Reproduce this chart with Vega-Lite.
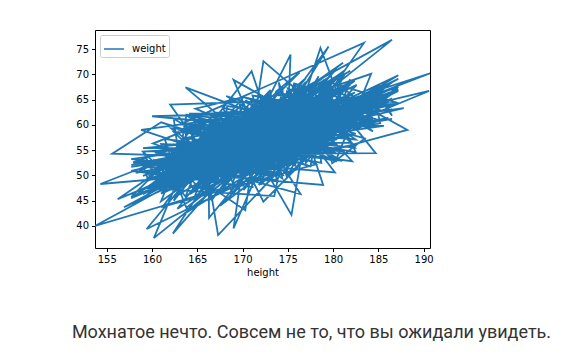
{
"$schema":"https://vega.github.io/schema/vega-lite/v6.json",
"autosize":{"type":"none"},
"padding":{"left":95,"top":30,"right":147,"bottom":112},
"width":335,"height":218,
"background":"#ffffff",
"title":{"text":"Мохнатое нечто. Совсем не то, что вы ожидали увидеть.","orient":"bottom","anchor":"middle","frame":"group","dx":49,"offset":46,"font":"Roboto","fontSize":18,"fontWeight":"normal","color":"#333333"},
"config":{"view":{"stroke":"#000000","strokeWidth":1},"axis":{"grid":false,"domain":false,"tickColor":"#000000","tickSize":3.5,"tickWidth":1,"labelFont":"DejaVu Sans","labelFontSize":10,"labelColor":"#000000","titleFont":"DejaVu Sans","titleFontSize":10,"titleFontWeight":"normal","titleColor":"#000000"}},
"data":{"values":[
{"height":163.8,"weight":55.7},{"height":175.1,"weight":53.6},{"height":170.6,"weight":57.6},{"height":178.7,"weight":68.0},{"height":167.1,"weight":52.5},{"height":172.8,"weight":50.1},
{"height":153.7,"weight":40.0},
{"height":181.3,"weight":67.0},{"height":165.9,"weight":53.8},{"height":174.4,"weight":64.8},{"height":169.2,"weight":52.0},{"height":177.5,"weight":62.1},{"height":162.4,"weight":45.6},
{"height":176.3,"weight":70.4},
{"height":173.7,"weight":66.6},{"height":171.7,"weight":54.2},{"height":179.9,"weight":61.9},{"height":166.6,"weight":59.6},{"height":176.2,"weight":53.6},{"height":168.3,"weight":59.0},
{"height":186.5,"weight":76.8},
{"height":172.2,"weight":56.4},{"height":180.4,"weight":57.4},{"height":164.7,"weight":61.0},{"height":174.9,"weight":57.4},{"height":170.1,"weight":59.0},{"height":178.1,"weight":52.2},
{"height":161.2,"weight":43.8},
{"height":167.8,"weight":60.5},{"height":182.5,"weight":60.7},{"height":169.8,"weight":56.8},{"height":175.8,"weight":63.5},{"height":165.2,"weight":46.6},{"height":173.1,"weight":61.1},
{"height":163.7,"weight":67.4},
{"height":171.1,"weight":56.2},{"height":177.0,"weight":69.3},{"height":163.1,"weight":47.5},{"height":176.6,"weight":62.0},{"height":168.9,"weight":54.4},{"height":179.2,"weight":67.9},
{"height":188.2,"weight":59.0},
{"height":166.2,"weight":48.4},{"height":172.5,"weight":59.0},{"height":174.0,"weight":55.1},{"height":161.0,"weight":56.2},{"height":163.8,"weight":43.6},{"height":178.7,"weight":64.6},
{"height":163.4,"weight":42.2},
{"height":181.3,"weight":62.1},{"height":169.2,"weight":58.7},{"height":173.7,"weight":52.8},{"height":166.6,"weight":55.4},{"height":172.2,"weight":64.4},{"height":174.9,"weight":56.8},
{"height":175.3,"weight":73.9},
{"height":167.8,"weight":47.4},{"height":175.8,"weight":64.0},{"height":171.1,"weight":56.7},{"height":176.6,"weight":66.0},{"height":166.2,"weight":50.3},{"height":161.0,"weight":53.1},
{"height":185.3,"weight":66.2},
{"height":170.6,"weight":50.1},{"height":172.8,"weight":66.1},{"height":174.4,"weight":55.7},{"height":162.4,"weight":52.3},{"height":179.9,"weight":66.9},{"height":168.3,"weight":49.3},
{"height":160.2,"weight":37.6},
{"height":164.7,"weight":57.0},{"height":178.1,"weight":59.7},{"height":169.8,"weight":51.6},{"height":173.1,"weight":65.6},{"height":163.1,"weight":50.9},{"height":179.2,"weight":64.0},
{"height":158.8,"weight":59.0},
{"height":174.0,"weight":49.9},{"height":175.1,"weight":64.5},{"height":167.1,"weight":52.2},{"height":165.9,"weight":54.6},{"height":177.5,"weight":64.4},{"height":171.7,"weight":50.1},
{"height":179.0,"weight":68.9},
{"height":176.2,"weight":62.8},{"height":180.4,"weight":61.3},{"height":170.1,"weight":65.5},{"height":182.5,"weight":58.2},{"height":165.2,"weight":55.8},{"height":177.0,"weight":58.9},
{"height":175.4,"weight":42.2},
{"height":168.9,"weight":62.2},{"height":172.5,"weight":51.9},{"height":163.8,"weight":54.2},{"height":165.9,"weight":50.6},{"height":179.9,"weight":66.5},{"height":174.9,"weight":49.7},
{"height":171.0,"weight":70.6},
{"height":165.2,"weight":57.2},{"height":179.2,"weight":61.0},{"height":170.6,"weight":59.4},{"height":169.2,"weight":50.4},{"height":176.2,"weight":60.7},{"height":178.1,"weight":67.7},
{"height":158.2,"weight":50.5},
{"height":171.1,"weight":54.7},{"height":172.5,"weight":50.0},{"height":167.1,"weight":59.2},{"height":162.4,"weight":51.9},{"height":172.2,"weight":63.6},{"height":182.5,"weight":59.3},
{"height":184.7,"weight":54.4},
{"height":163.1,"weight":54.2},{"height":161.0,"weight":44.9},{"height":181.3,"weight":70.8},{"height":171.7,"weight":54.2},{"height":164.7,"weight":53.6},{"height":175.8,"weight":64.7},
{"height":179.5,"weight":75.5},
{"height":168.9,"weight":49.6},{"height":175.1,"weight":62.7},{"height":174.4,"weight":57.6},{"height":166.6,"weight":49.8},{"height":170.1,"weight":64.0},{"height":173.1,"weight":56.4},
{"height":166.3,"weight":41.6},
{"height":166.2,"weight":56.8},{"height":178.7,"weight":52.5},{"height":177.5,"weight":65.8},{"height":168.3,"weight":52.9},{"height":167.8,"weight":55.7},{"height":177.0,"weight":64.2},
{"height":154.3,"weight":48.3},
{"height":174.0,"weight":51.4},{"height":172.8,"weight":60.9},{"height":173.7,"weight":57.6},{"height":180.4,"weight":71.1},{"height":169.8,"weight":51.2},{"height":176.6,"weight":62.0},
{"height":190.7,"weight":70.2},
{"height":163.8,"weight":51.6},{"height":169.2,"weight":62.4},{"height":172.2,"weight":51.7},{"height":175.8,"weight":60.8},{"height":166.2,"weight":50.8},{"height":172.8,"weight":62.6},
{"height":183.5,"weight":57.3},
{"height":179.9,"weight":52.4},{"height":178.1,"weight":64.3},{"height":163.1,"weight":52.1},{"height":175.1,"weight":61.9},{"height":177.5,"weight":54.9},{"height":180.4,"weight":63.0},
{"height":167.3,"weight":38.2},
{"height":165.2,"weight":60.6},{"height":172.5,"weight":55.5},{"height":181.3,"weight":54.8},{"height":166.6,"weight":58.9},{"height":167.8,"weight":54.9},{"height":176.6,"weight":66.0},
{"height":172.3,"weight":72.6},
{"height":170.6,"weight":52.7},{"height":162.4,"weight":53.8},{"height":164.7,"weight":46.9},{"height":173.1,"weight":66.3},{"height":174.0,"weight":55.5},{"height":165.9,"weight":54.2},
{"height":162.0,"weight":64.0},
{"height":176.2,"weight":64.9},{"height":182.5,"weight":57.1},{"height":168.9,"weight":59.3},{"height":178.7,"weight":60.0},{"height":173.7,"weight":53.7},{"height":174.9,"weight":66.6},
{"height":182.1,"weight":52.8},
{"height":171.1,"weight":55.3},{"height":161.0,"weight":54.0},{"height":174.4,"weight":50.1},{"height":168.3,"weight":60.8},{"height":169.8,"weight":53.7},{"height":179.2,"weight":62.0},
{"height":156.2,"weight":45.3},
{"height":167.1,"weight":58.7},{"height":171.7,"weight":50.1},{"height":170.1,"weight":59.5},{"height":177.0,"weight":59.5},{"height":163.8,"weight":62.0},{"height":162.4,"weight":47.1},
{"height":181.1,"weight":72.3},
{"height":170.1,"weight":58.5},{"height":176.6,"weight":58.6},{"height":167.1,"weight":61.2},{"height":166.6,"weight":48.6},{"height":169.8,"weight":57.5},{"height":172.5,"weight":54.3},
{"height":169.0,"weight":68.9},
{"height":174.4,"weight":63.5},{"height":180.4,"weight":52.7},{"height":171.1,"weight":60.4},{"height":175.1,"weight":58.7},{"height":173.7,"weight":61.1},{"height":178.1,"weight":55.3},
{"height":172.3,"weight":44.8},
{"height":168.9,"weight":56.7},{"height":172.8,"weight":64.7},{"height":176.2,"weight":57.5},{"height":175.8,"weight":51.8},{"height":174.0,"weight":63.0},{"height":169.2,"weight":55.7},
{"height":185.6,"weight":59.8},
{"height":164.7,"weight":59.5},{"height":177.0,"weight":56.3},{"height":170.6,"weight":58.3},{"height":171.7,"weight":50.7},{"height":167.8,"weight":63.4},{"height":179.2,"weight":58.4},
{"height":160.0,"weight":61.7},
{"height":181.3,"weight":62.7},{"height":168.3,"weight":60.6},{"height":165.2,"weight":47.6},{"height":161.0,"weight":55.0},{"height":177.5,"weight":59.3},{"height":174.9,"weight":54.4},
{"height":183.4,"weight":76.2},
{"height":163.1,"weight":60.1},{"height":178.7,"weight":59.5},{"height":179.9,"weight":64.3},{"height":182.5,"weight":54.6},{"height":166.2,"weight":59.6},{"height":165.9,"weight":51.5},
{"height":176.4,"weight":46.3},
{"height":172.2,"weight":58.1},{"height":173.1,"weight":62.0},{"height":163.8,"weight":45.8},{"height":171.7,"weight":60.3},{"height":169.8,"weight":55.5},{"height":161.0,"weight":60.5},
{"height":155.6,"weight":54.3},
{"height":173.7,"weight":53.3},{"height":182.5,"weight":65.3},{"height":174.0,"weight":57.2},{"height":162.4,"weight":58.6},{"height":167.8,"weight":49.3},{"height":172.5,"weight":59.0},
{"height":190.6,"weight":66.7},
{"height":177.5,"weight":57.0},{"height":178.1,"weight":65.6},{"height":166.2,"weight":44.9},{"height":169.2,"weight":59.4},{"height":170.1,"weight":56.0},{"height":179.2,"weight":64.2},
{"height":167.5,"weight":44.0},
{"height":174.4,"weight":53.2},{"height":174.9,"weight":60.0},{"height":168.9,"weight":62.6},{"height":165.9,"weight":51.8},{"height":164.7,"weight":45.7},{"height":176.6,"weight":64.4},
{"height":178.6,"weight":75.2},
{"height":181.3,"weight":62.3},{"height":180.4,"weight":68.1},{"height":163.1,"weight":48.6},{"height":172.8,"weight":59.5},{"height":172.2,"weight":51.0},{"height":177.0,"weight":68.5},
{"height":162.3,"weight":38.5},
{"height":167.1,"weight":51.7},{"height":168.3,"weight":55.6},{"height":171.1,"weight":62.1},{"height":178.7,"weight":55.0},{"height":176.2,"weight":63.3},{"height":173.1,"weight":56.9},
{"height":186.1,"weight":61.4},
{"height":170.6,"weight":52.0},{"height":166.6,"weight":62.0},{"height":165.2,"weight":52.1},{"height":175.1,"weight":61.7},{"height":179.9,"weight":53.1},{"height":175.8,"weight":64.9},
{"height":178.9,"weight":48.1},
{"height":163.8,"weight":50.4},{"height":168.3,"weight":56.0},{"height":168.9,"weight":59.7},{"height":162.4,"weight":45.0},{"height":165.2,"weight":56.8},{"height":172.8,"weight":57.1},
{"height":164.8,"weight":63.2},
{"height":170.1,"weight":65.5},{"height":161.0,"weight":46.4},{"height":176.2,"weight":61.8},{"height":176.6,"weight":58.6},{"height":177.5,"weight":66.9},{"height":175.8,"weight":53.7},
{"height":159.4,"weight":39.4},
{"height":167.1,"weight":56.0},{"height":174.9,"weight":55.6},{"height":174.0,"weight":63.3},{"height":166.6,"weight":45.1},{"height":163.1,"weight":56.0},{"height":169.2,"weight":55.5},
{"height":187.8,"weight":63.3},
{"height":169.8,"weight":59.0},{"height":178.7,"weight":55.6},{"height":164.7,"weight":54.4},{"height":172.5,"weight":64.6},{"height":179.9,"weight":59.5},{"height":177.0,"weight":52.5},
{"height":174.0,"weight":68.4},
{"height":174.4,"weight":63.2},{"height":182.5,"weight":63.0},{"height":170.6,"weight":62.7},{"height":180.4,"weight":58.1},{"height":166.2,"weight":55.9},{"height":171.7,"weight":50.7},
{"height":169.0,"weight":39.5},
{"height":171.1,"weight":65.2},{"height":165.9,"weight":51.0},{"height":167.8,"weight":55.3},{"height":175.1,"weight":64.3},{"height":172.2,"weight":51.4},{"height":179.2,"weight":65.0},
{"height":156.9,"weight":43.7},
{"height":173.7,"weight":57.2},{"height":173.1,"weight":53.4},{"height":181.3,"weight":70.1},{"height":178.1,"weight":59.2},{"height":163.8,"weight":55.5},{"height":180.4,"weight":53.4},
{"height":184.2,"weight":70.1},
{"height":174.0,"weight":63.9},{"height":168.3,"weight":52.9},{"height":166.2,"weight":54.8},{"height":166.6,"weight":58.4},{"height":168.9,"weight":48.6},{"height":171.7,"weight":60.3},
{"height":170.3,"weight":43.1},
{"height":163.1,"weight":51.8},{"height":162.4,"weight":61.2},{"height":171.1,"weight":51.9},{"height":169.2,"weight":58.0},{"height":165.2,"weight":52.4},{"height":165.9,"weight":60.5},
{"height":160.1,"weight":56.3},
{"height":169.8,"weight":50.4},{"height":172.8,"weight":59.1},{"height":167.8,"weight":51.7},{"height":178.7,"weight":65.9},{"height":170.1,"weight":47.1},{"height":175.1,"weight":62.6},
{"height":180.2,"weight":50.6},
{"height":164.7,"weight":53.0},{"height":161.0,"weight":54.2},{"height":172.2,"weight":52.0},{"height":172.5,"weight":58.7},{"height":176.2,"weight":66.6},{"height":179.2,"weight":59.2},
{"height":168.2,"weight":65.7},
{"height":179.9,"weight":54.0},{"height":176.6,"weight":64.4},{"height":173.7,"weight":58.1},{"height":177.0,"weight":66.3},{"height":177.5,"weight":56.5},{"height":173.1,"weight":59.7},
{"height":182.6,"weight":67.9},
{"height":174.4,"weight":52.2},{"height":175.8,"weight":67.8},{"height":181.3,"weight":59.5},{"height":182.5,"weight":63.4},{"height":167.1,"weight":59.9},{"height":178.1,"weight":54.7},
{"height":157.9,"weight":52.6},
{"height":170.6,"weight":60.2},{"height":174.9,"weight":57.9},
{"height":173.5,"weight":45.9},
{"height":159.5,"weight":47.5},
{"height":184.4,"weight":61.4},{"height":168.9,"weight":61.2},{"height":179.1,"weight":62.2},{"height":161.4,"weight":47.4},{"height":173.8,"weight":61.3},{"height":165.8,"weight":53.3},{"height":181.9,"weight":70.7},{"height":159.0,"weight":47.2},{"height":176.3,"weight":59.8},{"height":171.1,"weight":61.2},{"height":186.5,"weight":63.0},{"height":163.7,"weight":59.6},{"height":175.0,"weight":50.5},{"height":167.5,"weight":57.0},{"height":183.3,"weight":62.1},{"height":171.8,"weight":64.3},{"height":179.8,"weight":56.9},{"height":160.3,"weight":51.1},{"height":177.5,"weight":63.9},{"height":169.6,"weight":49.7},{"height":185.2,"weight":67.1},{"height":164.5,"weight":51.1},{"height":173.1,"weight":66.9},{"height":162.8,"weight":43.4},{"height":181.0,"weight":63.7},{"height":167.0,"weight":53.7},{"height":175.7,"weight":63.1},{"height":159.6,"weight":47.9},{"height":182.4,"weight":68.7},{"height":170.4,"weight":53.4},{"height":178.4,"weight":63.1},{"height":164.2,"weight":46.3},{"height":172.0,"weight":65.0},{"height":187.2,"weight":64.3},{"height":168.3,"weight":58.4},{"height":176.9,"weight":53.9},{"height":162.1,"weight":52.9},{"height":174.4,"weight":54.6},{"height":180.3,"weight":67.1},{"height":165.3,"weight":55.0},{"height":157.7,"weight":45.5},
{"height":184.4,"weight":65.6},{"height":181.9,"weight":61.6},{"height":175.0,"weight":67.2},{"height":177.5,"weight":54.8},{"height":181.0,"weight":62.3},{"height":178.4,"weight":65.0},{"height":162.1,"weight":49.2},{"height":168.9,"weight":62.3},{"height":159.0,"weight":45.4},{"height":167.5,"weight":57.0},{"height":169.6,"weight":54.4},{"height":167.0,"weight":61.8},{"height":164.2,"weight":48.7},{"height":174.4,"weight":58.4},{"height":179.1,"weight":64.7},{"height":176.3,"weight":53.1},{"height":183.3,"weight":66.1},{"height":185.2,"weight":62.8},{"height":175.7,"weight":68.2},{"height":172.0,"weight":48.2},{"height":180.3,"weight":63.3},{"height":161.4,"weight":51.2},{"height":171.1,"weight":60.7},{"height":171.8,"weight":52.2},{"height":164.5,"weight":59.4},{"height":159.6,"weight":49.0},{"height":187.2,"weight":66.7},{"height":165.3,"weight":46.9},{"height":173.8,"weight":65.9},{"height":186.5,"weight":63.9},{"height":179.8,"weight":64.4},{"height":173.1,"weight":52.0},{"height":182.4,"weight":63.4},{"height":168.3,"weight":51.5},{"height":157.7,"weight":53.2},{"height":165.8,"weight":55.3},{"height":163.7,"weight":45.8},{"height":160.3,"weight":53.0},{"height":162.8,"weight":51.7},{"height":170.4,"weight":64.8},{"height":176.9,"weight":54.4},
{"height":184.4,"weight":63.9},{"height":163.7,"weight":57.4},{"height":173.1,"weight":54.9},{"height":187.2,"weight":69.1},{"height":161.4,"weight":46.7},{"height":183.3,"weight":64.4},{"height":167.0,"weight":53.0},{"height":162.1,"weight":59.3},{"height":181.9,"weight":57.9},{"height":160.3,"weight":51.1},{"height":182.4,"weight":66.4},{"height":165.3,"weight":47.4},{"height":171.1,"weight":61.7},{"height":185.2,"weight":62.8},{"height":164.2,"weight":62.2},{"height":168.9,"weight":46.6},{"height":175.0,"weight":60.6},{"height":162.8,"weight":51.5},{"height":168.3,"weight":59.3},{"height":173.8,"weight":53.2},{"height":171.8,"weight":63.2},{"height":175.7,"weight":56.1},{"height":174.4,"weight":61.0},{"height":159.0,"weight":46.3},{"height":177.5,"weight":67.9},{"height":170.4,"weight":55.1},{"height":157.7,"weight":51.7},{"height":186.5,"weight":61.2},{"height":164.5,"weight":54.1},{"height":172.0,"weight":53.4},{"height":179.1,"weight":66.5},{"height":167.5,"weight":56.2},{"height":181.0,"weight":54.8},{"height":176.9,"weight":62.9},{"height":165.8,"weight":53.3},{"height":179.8,"weight":69.7},{"height":159.6,"weight":47.6},{"height":180.3,"weight":61.9},{"height":176.3,"weight":63.9},{"height":169.6,"weight":53.1},{"height":178.4,"weight":67.2},
{"height":184.4,"weight":58.7},{"height":179.8,"weight":63.4},{"height":172.0,"weight":55.6},{"height":159.0,"weight":54.7},{"height":162.8,"weight":48.0},{"height":165.3,"weight":53.7},{"height":183.3,"weight":65.4},{"height":178.4,"weight":54.2},{"height":165.8,"weight":59.0},{"height":164.5,"weight":51.1},{"height":174.4,"weight":67.5},{"height":175.0,"weight":49.8},{"height":182.4,"weight":64.4},{"height":161.4,"weight":51.2},{"height":169.6,"weight":60.0},{"height":176.9,"weight":54.8},{"height":186.5,"weight":68.4},{"height":175.7,"weight":56.1},{"height":168.9,"weight":58.2},{"height":160.3,"weight":47.0},{"height":187.2,"weight":69.8},{"height":176.3,"weight":58.1},{"height":181.0,"weight":65.0},{"height":157.7,"weight":46.3},{"height":171.8,"weight":57.9},{"height":164.2,"weight":49.3},{"height":181.9,"weight":67.9},{"height":173.1,"weight":59.1},{"height":180.3,"weight":54.4},{"height":167.5,"weight":58.1},{"height":170.4,"weight":55.7},{"height":173.8,"weight":66.5},{"height":185.2,"weight":60.9},{"height":162.1,"weight":52.5},{"height":163.7,"weight":57.4},{"height":159.6,"weight":49.1},{"height":179.1,"weight":67.6},{"height":177.5,"weight":51.8},{"height":168.3,"weight":57.4},{"height":171.1,"weight":55.1},{"height":167.0,"weight":61.8},
{"height":184.4,"weight":61.1},{"height":164.5,"weight":53.3},{"height":168.9,"weight":59.4},{"height":173.1,"weight":51.5},{"height":179.1,"weight":65.9},{"height":162.8,"weight":50.2},{"height":161.4,"weight":57.2},{"height":181.0,"weight":52.9},{"height":173.8,"weight":59.9},{"height":167.0,"weight":53.7},{"height":165.8,"weight":58.0},{"height":175.7,"weight":54.2},{"height":181.9,"weight":68.4},{"height":159.6,"weight":49.0},{"height":159.0,"weight":52.0},{"height":182.4,"weight":55.8},{"height":176.3,"weight":67.2},{"height":170.4,"weight":55.1},{"height":171.1,"weight":59.8},{"height":178.4,"weight":54.7},{"height":186.5,"weight":65.2},{"height":164.2,"weight":49.3},{"height":163.7,"weight":58.5},{"height":172.0,"weight":58.5},{"height":175.0,"weight":51.7},{"height":187.2,"weight":67.0},{"height":167.5,"weight":54.2},{"height":168.3,"weight":63.7},{"height":183.3,"weight":59.9},{"height":176.9,"weight":60.1},{"height":171.8,"weight":61.6},{"height":162.1,"weight":49.2},{"height":179.8,"weight":68.0},{"height":174.4,"weight":50.1},{"height":160.3,"weight":52.4},{"height":180.3,"weight":59.9},{"height":177.5,"weight":67.3},{"height":165.3,"weight":49.3},{"height":169.6,"weight":56.0},{"height":157.7,"weight":52.1},{"height":185.2,"weight":60.3},
{"height":184.4,"weight":66.7},{"height":175.7,"weight":56.9},{"height":163.7,"weight":62.0},{"height":174.4,"weight":49.4},{"height":173.1,"weight":59.6},{"height":159.0,"weight":49.9},{"height":187.2,"weight":67.5},{"height":177.5,"weight":55.2},{"height":161.4,"weight":55.4},{"height":170.4,"weight":53.4},{"height":183.3,"weight":64.7},{"height":157.7,"weight":45.7},{"height":167.0,"weight":62.4},{"height":186.5,"weight":63.9},{"height":162.1,"weight":55.2},{"height":164.5,"weight":47.5},{"height":181.9,"weight":63.1},{"height":172.0,"weight":53.4},{"height":160.3,"weight":54.5},{"height":179.1,"weight":62.2},{"height":182.4,"weight":55.5},{"height":167.5,"weight":58.1},{"height":165.3,"weight":53.0},{"height":181.0,"weight":70.3},{"height":171.1,"weight":51.4},{"height":176.9,"weight":60.1},{"height":185.2,"weight":66.8},{"height":165.8,"weight":51.1},{"height":164.2,"weight":59.8},{"height":179.8,"weight":53.0},{"height":168.9,"weight":57.7},{"height":159.6,"weight":49.8},{"height":175.0,"weight":66.0},{"height":180.3,"weight":57.1},{"height":162.8,"weight":52.4},{"height":176.3,"weight":63.2},{"height":168.3,"weight":49.0},{"height":169.6,"weight":61.0},{"height":173.8,"weight":55.9},{"height":178.4,"weight":69.6},{"height":171.8,"weight":48.1},
{"height":184.4,"weight":64.8},{"height":164.2,"weight":52.2},{"height":164.5,"weight":57.3},{"height":163.7,"weight":48.0},{"height":168.9,"weight":61.7},{"height":172.0,"weight":54.2},{"height":173.1,"weight":60.4},{"height":175.0,"weight":52.0},{"height":179.1,"weight":68.7},{"height":187.2,"weight":64.3},{"height":162.8,"weight":55.5},{"height":167.5,"weight":49.1},{"height":161.4,"weight":52.2},{"height":168.3,"weight":51.5},{"height":181.0,"weight":67.5},{"height":183.3,"weight":63.9},{"height":173.8,"weight":51.0},{"height":176.9,"weight":62.9},{"height":167.0,"weight":53.9},{"height":171.8,"weight":65.5},{"height":165.8,"weight":48.7},{"height":162.1,"weight":52.5},{"height":175.7,"weight":63.6},{"height":179.8,"weight":58.4},{"height":181.9,"weight":69.0},{"height":174.4,"weight":50.1},{"height":159.6,"weight":52.1},{"height":160.3,"weight":50.1},{"height":159.0,"weight":54.7},{"height":180.3,"weight":57.1},{"height":182.4,"weight":62.6},{"height":177.5,"weight":63.9},{"height":176.3,"weight":53.1},{"height":165.3,"weight":58.7},{"height":170.4,"weight":54.2},{"height":169.6,"weight":65.1},{"height":171.1,"weight":47.7},{"height":157.7,"weight":50.9},{"height":178.4,"weight":59.6},{"height":185.2,"weight":66.5},{"height":186.5,"weight":61.8},
{"height":184.4,"weight":67.4},{"height":162.1,"weight":49.1},{"height":164.2,"weight":55.7},{"height":175.7,"weight":52.3},{"height":164.5,"weight":61.1},{"height":179.8,"weight":60.0},{"height":163.7,"weight":56.0},{"height":181.9,"weight":56.5},{"height":168.9,"weight":56.4},{"height":174.4,"weight":54.6},{"height":172.0,"weight":62.8},{"height":159.6,"weight":51.6},{"height":173.1,"weight":50.7},{"height":160.3,"weight":53.0},{"height":175.0,"weight":58.1},{"height":159.0,"weight":55.4},{"height":179.1,"weight":55.6},{"height":180.3,"weight":61.9},{"height":187.2,"weight":67.8},{"height":182.4,"weight":59.7},{"height":162.8,"weight":59.1},{"height":177.5,"weight":51.8},{"height":167.5,"weight":57.0},{"height":176.3,"weight":57.8},{"height":161.4,"weight":56.0},{"height":165.3,"weight":49.3},{"height":168.3,"weight":55.3},{"height":170.4,"weight":60.2},{"height":181.0,"weight":55.6},{"height":169.6,"weight":61.0},{"height":183.3,"weight":61.8},{"height":171.1,"weight":65.8},{"height":173.8,"weight":49.1},{"height":157.7,"weight":50.9},{"height":176.9,"weight":58.8},{"height":178.4,"weight":64.5},{"height":167.0,"weight":49.7},{"height":185.2,"weight":67.8},{"height":171.8,"weight":54.1},{"height":186.5,"weight":66.3},{"height":165.8,"weight":47.2}
]},
"mark":{"type":"line","strokeWidth":1.8,"clip":true},
"encoding":{
"x":{"field":"height","type":"quantitative","scale":{"domain":[153.7,190.7],"nice":false,"zero":false},"axis":{"values":[155,160,165,170,175,180,185,190],"title":"height","labelPadding":3,"titlePadding":3}},
"y":{"field":"weight","type":"quantitative","scale":{"domain":[35.64,78.76],"nice":false,"zero":false},"axis":{"values":[40,45,50,55,60,65,70,75],"title":null,"labelPadding":3}},
"order":{"value":null},
"color":{"datum":"weight","type":"nominal","scale":{"range":["#1f77b4"]},"legend":{"orient":"none","legendX":5,"legendY":5,"title":null,"symbolType":"stroke","symbolSize":400,"symbolStrokeWidth":1.5,"labelFont":"DejaVu Sans","labelFontSize":10,"labelColor":"#000000","labelOffset":7,"strokeColor":"#cccccc","fillColor":"rgba(255,255,255,0.8)","padding":3,"cornerRadius":2}}
}
}
